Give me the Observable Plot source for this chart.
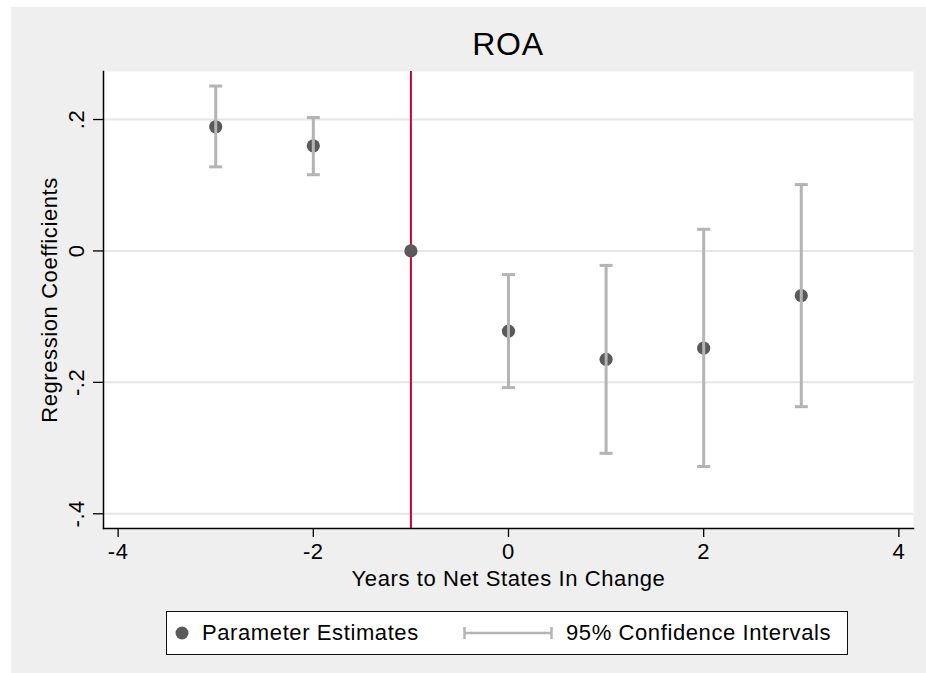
<!DOCTYPE html>
<html>
<head>
<meta charset="utf-8">
<script src="https://cdn.jsdelivr.net/npm/d3@7"></script>
<script src="https://cdn.jsdelivr.net/npm/@observablehq/plot@0.6"></script>
<style>
  html, body { margin: 0; padding: 0; background: #ffffff; }
  body { width: 926px; height: 673px; overflow: hidden; position: relative; font-family: "Liberation Sans", Arial, sans-serif; }
  #wrap { position: absolute; left: 11px; top: 7px; width: 915px; height: 666px; background: #efefef; }
  #title { box-sizing: border-box; height: 57px; padding: 22px 13px 0 92px; line-height: 31px; font-size: 32px; letter-spacing: 0.8px; text-align: center; width: 915px; color: #000; }
  #chart svg { display: block; }
  #legend { position: absolute; left: 155px; top: 604px; width: 682px; height: 44px; box-sizing: border-box; border: 1.5px solid #111; background: #fff; font-size: 22px; letter-spacing: 0.6px; color: #000; }
  .item { position: absolute; top: 0; height: 41px; display: flex; align-items: center; white-space: nowrap; }
</style>
</head>
<body>
<div id="wrap">
  <div id="title"></div>
  <div id="chart"></div>
  <div id="legend"></div>
</div>
<script>
// ---- data ----
const titleText = "ROA";
const xTitle = "Years to Net States In Change";
const yTitle = "Regression Coefficients";
const years = [-3, -2, -1, 0, 1, 2, 3];
const estimates = [0.189, 0.160, 0, -0.122, -0.165, -0.148, -0.068];
const ciLower = [0.128, 0.116, null, -0.208, -0.308, -0.328, -0.237];
const ciUpper = [0.251, 0.203, null, -0.036, -0.022, 0.033, 0.101];
const eventYear = [-1];
const xTicks = [-4, -2, 0, 2, 4];
const xTickLabels = ["-4", "-2", "0", "2", "4"];
const yTicks = [-0.4, -0.2, 0, 0.2];
const yTickLabels = ["-.4", "-.2", "0", ".2"];
const legendLabels = ["Parameter Estimates", "95% Confidence Intervals"];

// ---- build tables ----
const points = years.map((x, i) => ({x, est: estimates[i]}));
const cis = years.map((x, i) => ({x, lo: ciLower[i], hi: ciUpper[i]})).filter(d => d.lo != null && d.hi != null);

const dotColor = "#5a5a5a";
const ciColor = "#b4b4b4";
const fontFam = '"Liberation Sans", Arial, sans-serif';

// horizontal cap symbol (pixel-sized)
const capSymbol = {
  draw(ctx, size) {
    const r = Math.sqrt(size / Math.PI);
    ctx.moveTo(-r, 0);
    ctx.lineTo(r, 0);
  }
};

document.getElementById("title").textContent = titleText;

const W = 915, H = 536;
const chart = Plot.plot({
  width: W,
  height: H,
  marginLeft: 92,
  marginRight: 13,
  marginTop: 7,
  marginBottom: 72,
  style: {background: "transparent", fontFamily: fontFam, fontSize: "22px", letterSpacing: "0.6px", color: "#000", overflow: "visible"},
  x: {domain: [-4.15, 4.15], label: null},
  y: {domain: [-0.4224, 0.2731], label: null},
  marks: [
    Plot.frame({fill: "white", stroke: null}),
    Plot.ruleY(yTicks, {y: d => d, stroke: "#e6e6e6", strokeWidth: 2}),
    Plot.ruleX(eventYear, {x: d => d, stroke: "#cc0033", strokeWidth: 2}),
    Plot.dot(points, {x: "x", y: "est", r: 6.6, fill: dotColor, stroke: null}),
    Plot.ruleX(cis, {x: "x", y1: "lo", y2: "hi", stroke: ciColor, strokeWidth: 3}),
    Plot.dot(cis, {x: "x", y: "lo", r: 6.5, symbol: capSymbol, stroke: ciColor, strokeWidth: 3, fill: "none"}),
    Plot.dot(cis, {x: "x", y: "hi", r: 6.5, symbol: capSymbol, stroke: ciColor, strokeWidth: 3, fill: "none"}),
    Plot.axisY({
      ticks: yTicks, tickSize: 10, tickPadding: 10, tickRotate: -90,
      textAnchor: "middle", lineAnchor: "bottom",
      tickFormat: d => yTickLabels[yTicks.findIndex(t => Math.abs(t - d) < 1e-9)],
      stroke: "#000", strokeWidth: 1.3, fill: "#000", label: null
    }),
    Plot.axisX({
      ticks: xTicks, tickSize: 9, tickPadding: 6,
      tickFormat: d => xTickLabels[xTicks.indexOf(d)],
      stroke: "#000", strokeWidth: 1.3, fill: "#000", label: null
    }),
    Plot.frame({anchor: "left", stroke: "#000", strokeWidth: 1.5}),
    Plot.frame({anchor: "bottom", stroke: "#000", strokeWidth: 1.5}),
    Plot.text([yTitle], {text: d => d, frameAnchor: "left", dx: -47, rotate: -90, textAnchor: "middle", lineAnchor: "bottom", fontSize: 22, fill: "#000"}),
    Plot.text([xTitle], {text: d => d, frameAnchor: "bottom", dy: 57, textAnchor: "middle", lineAnchor: "bottom", fontSize: 22, fill: "#000"})
  ]
});
document.getElementById("chart").appendChild(chart);

// ---- legend ----
const legend = document.getElementById("legend");
const item1 = document.createElement("div");
item1.className = "item";
item1.style.left = "7px";
item1.innerHTML = `<svg width="16" height="16" style="margin-right:12px"><circle cx="8" cy="8" r="6.5" fill="${dotColor}"/></svg><span></span>`;
item1.querySelector("span").textContent = legendLabels[0];
legend.appendChild(item1);
const item2 = document.createElement("div");
item2.className = "item";
item2.style.left = "296px";
item2.innerHTML = `<svg width="90" height="16" style="margin-right:13px"><line x1="1.5" x2="88.5" y1="8" y2="8" stroke="${ciColor}" stroke-width="2.5"/><line x1="1.5" x2="1.5" y1="2" y2="14" stroke="${ciColor}" stroke-width="2.5"/><line x1="88.5" x2="88.5" y1="2" y2="14" stroke="${ciColor}" stroke-width="2.5"/></svg><span></span>`;
item2.querySelector("span").textContent = legendLabels[1];
legend.appendChild(item2);
</script>
</body>
</html>
